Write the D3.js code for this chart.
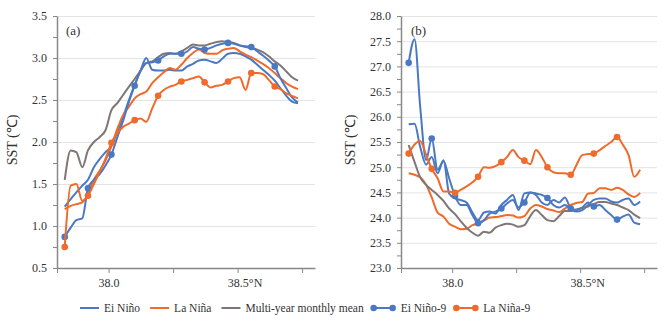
<!DOCTYPE html>
<html>
<head>
<meta charset="utf-8">
<script src="https://cdn.jsdelivr.net/npm/d3@7"></script>
<style>
  body { margin: 0; background: #fff; }
  text { font-family: "Liberation Serif", "Times New Roman", serif; fill: #333; }
</style>
</head>
<body>
<div id="chart"></div>
<script>
// latitude of each sample (°N)
const lat = [37.830, 37.853, 37.875, 37.898, 37.920, 37.943, 37.966, 37.988, 38.011, 38.033,
             38.056, 38.079, 38.101, 38.124, 38.146, 38.169, 38.192, 38.214, 38.237, 38.259,
             38.282, 38.305, 38.327, 38.350, 38.372, 38.395, 38.418, 38.440, 38.463, 38.485,
             38.508, 38.531, 38.553, 38.576, 38.598, 38.621, 38.644, 38.666, 38.689, 38.711, 38.734];

// panel (a)
const elNinoA = [1.23, 1.32, 1.40, 1.48, 1.55, 1.70, 1.80, 1.88, 1.95, 2.12,
                 2.30, 2.50, 2.68, 2.85, 3.00, 2.86, 2.85, 2.85, 2.86, 2.85,
                 2.85, 2.90, 2.93, 2.97, 2.98, 2.96, 2.94, 2.99, 3.05, 3.06,
                 3.05, 3.02, 2.98, 2.92, 2.86, 2.80, 2.73, 2.64, 2.55, 2.48, 2.46];
const laNinaA = [1.20, 1.24, 1.26, 1.28, 1.38, 1.55, 1.66, 1.78, 1.95, 2.15,
                 2.32, 2.42, 2.52, 2.57, 2.60, 2.70, 2.77, 2.83, 2.88, 2.86,
                 2.92, 3.00, 3.06, 3.10, 3.06, 3.05, 3.05, 3.09, 3.11, 3.12,
                 3.08, 3.04, 3.01, 2.97, 2.93, 2.88, 2.82, 2.76, 2.70, 2.66, 2.63];
const meanA   = [1.55, 1.90, 1.88, 1.70, 1.90, 2.00, 2.06, 2.14, 2.38, 2.46,
                 2.56, 2.66, 2.75, 2.85, 2.94, 2.96, 3.01, 3.05, 3.06, 3.05,
                 3.08, 3.12, 3.16, 3.15, 3.15, 3.17, 3.19, 3.20, 3.19, 3.18,
                 3.15, 3.13, 3.12, 3.10, 3.07, 3.02, 2.96, 2.91, 2.84, 2.77, 2.73];
const elNino9A = [0.87, 0.98, 1.07, 1.09, 1.45, 1.55, 1.62, 1.72, 1.85, 2.05,
                  2.25, 2.48, 2.67, 2.85, 2.94, 2.95, 2.97, 3.02, 3.05, 3.05,
                  3.05, 3.08, 3.13, 3.11, 3.10, 3.12, 3.15, 3.17, 3.18, 3.17,
                  3.15, 3.14, 3.13, 3.08, 3.03, 2.97, 2.90, 2.76, 2.64, 2.53, 2.47];
const laNina9A = [0.75, 1.48, 1.50, 1.30, 1.36, 1.50, 1.65, 1.80, 1.99, 2.10,
                  2.18, 2.22, 2.26, 2.28, 2.24, 2.40, 2.55, 2.62, 2.66, 2.68,
                  2.72, 2.74, 2.76, 2.78, 2.71, 2.65, 2.67, 2.68, 2.72, 2.76,
                  2.77, 2.62, 2.82, 2.82, 2.81, 2.74, 2.66, 2.63, 2.58, 2.55, 2.52];

// panel (b)
const elNinoB = [25.85, 25.86, 25.40, 25.05, 25.20, 24.88, 25.14, 24.48, 24.38, 24.35,
                 24.30, 24.10, 23.95, 24.10, 24.12, 24.08, 24.25, 24.35, 24.45, 24.15,
                 24.48, 24.50, 24.45, 24.30, 24.25, 24.35, 24.30, 24.40, 24.18, 24.12,
                 24.15, 24.25, 24.35, 24.38, 24.38, 24.32, 24.30, 24.35, 24.38, 24.25, 24.32];
const laNinaB = [24.88, 24.85, 24.80, 24.65, 24.40, 24.10, 24.02, 23.88, 23.82, 23.77,
                 23.78, 23.85, 23.89, 23.94, 24.00, 24.01, 24.03, 24.05, 24.04, 24.00,
                 24.03, 24.18, 24.25, 24.22, 24.17, 24.14, 24.11, 24.18, 24.25, 24.29,
                 24.31, 24.48, 24.49, 24.58, 24.58, 24.55, 24.59, 24.55, 24.46, 24.41, 24.49];
const meanB   = [25.44, 25.10, 24.80, 24.65, 24.55, 24.45, 24.33, 24.18, 24.07, 23.93,
                 23.80, 23.70, 23.64, 23.72, 23.70, 23.80, 23.85, 23.88, 23.86, 23.82,
                 23.85, 24.03, 24.15, 24.05, 23.95, 23.93, 24.03, 24.13, 24.13, 24.16,
                 24.19, 24.22, 24.27, 24.31, 24.31, 24.28, 24.25, 24.20, 24.15, 24.06, 23.99];
const elNino9B = [27.07, 27.54, 26.20, 25.14, 25.57, 24.95, 25.12, 24.78, 24.43, 24.25,
                  24.25, 24.05, 23.89, 23.95, 24.08, 24.12, 24.18, 24.28, 24.35, 24.20,
                  24.30, 24.50, 24.48, 24.45, 24.39, 24.25, 24.20, 24.25, 24.18, 24.15,
                  24.20, 24.30, 24.22, 24.25, 24.15, 24.05, 23.96, 24.02, 24.06, 23.90, 23.87];
const laNina9B = [25.27, 25.45, 25.52, 25.25, 24.97, 24.78, 24.52, 24.52, 24.49, 24.55,
                  24.62, 24.70, 24.81, 25.00, 24.99, 25.02, 25.10, 25.20, 25.34, 25.20,
                  25.13, 25.06, 25.34, 25.20, 25.00, 24.90, 24.88, 24.88, 24.85, 25.04,
                  25.24, 25.26, 25.27, 25.34, 25.42, 25.50, 25.60, 25.45, 25.24, 24.81, 24.95];

const seriesNames = ["Ei Niño", "La Niña", "Multi-year monthly mean", "Ei Niño-9", "La Niña-9"];
const xTicks = [37.8, 38.0, 38.25, 38.5, 38.75];

const colors = {
  "Ei Niño": "#4a78c2", "La Niña": "#ef6a2b", "Multi-year monthly mean": "#7f7675",
  "Ei Niño-9": "#4a78c2", "La Niña-9": "#ef6a2b"
};

const W = 672, H = 322;
const svg = d3.select("#chart").append("svg")
  .attr("width", W).attr("height", H)
  .style("background", "#fff");

function panel(opt) {
  const x = d3.scaleLinear().domain([37.8, 38.8]).range([opt.left, opt.right]);
  const y = d3.scaleLinear().domain(opt.yDomain).range([268, 16]);
  const g = svg.append("g");

  // gridlines
  const major = d3.range(opt.yDomain[0], opt.yDomain[1] + 0.001, 0.5);
  g.append("g")
    .attr("transform", `translate(${opt.left},0)`)
    .call(d3.axisLeft(y).tickValues(major.slice(1)).tickSize(-(opt.right - opt.left)).tickFormat(""))
    .call(s => s.select(".domain").remove())
    .selectAll("line").attr("stroke", "#e3e3e3").attr("stroke-width", 1);

  // y axis
  const minor = d3.range(opt.yDomain[0], opt.yDomain[1] + 0.001, 0.25);
  g.append("g")
    .attr("transform", `translate(${opt.left},0)`)
    .call(d3.axisLeft(y).tickValues(minor).tickSize(4).tickSizeOuter(0).tickPadding(6)
      .tickFormat(d => Math.abs(d * 2 - Math.round(d * 2)) < 1e-6 ? d3.format(".1f")(d) : ""))
    .call(s => s.select(".domain").attr("stroke", "#888").attr("stroke-width", 1.5))
    .call(s => s.selectAll("line").attr("stroke", "#888"))
    .call(s => s.selectAll("text").style("font-size", "12px").attr("fill", "#333"));

  // x axis
  g.append("g")
    .attr("transform", "translate(0,268)")
    .call(d3.axisBottom(x).tickValues(xTicks).tickSize(5).tickSizeOuter(0).tickPadding(5)
      .tickFormat(d => d === 38.0 ? "38.0" : d === 38.5 ? "38.5°N" : ""))
    .call(s => s.select(".domain").attr("stroke", "#888").attr("stroke-width", 1.5))
    .call(s => s.selectAll("line").attr("stroke", "#888"))
    .call(s => s.selectAll("text").style("font-size", "12px").attr("fill", "#333")
      .attr("dx", d => d === 38.5 ? 7 : 0));

  // axis title
  g.append("text")
    .attr("transform", `translate(${opt.titleX},140) rotate(-90)`)
    .attr("text-anchor", "middle")
    .style("font-size", "14px")
    .text("SST (℃)");

  g.append("text")
    .attr("x", opt.labelX).attr("y", 35)
    .style("font-size", "13px")
    .text(opt.label);

  const line = d3.line()
    .x((d, i) => x(lat[i]))
    .y(d => y(d))
    .curve(d3.curveMonotoneX);

  opt.series.forEach((vals, k) => {
    const name = seriesNames[k];
    g.append("path")
      .datum(vals)
      .attr("d", line)
      .attr("fill", "none")
      .attr("stroke", colors[name])
      .attr("stroke-width", 2)
      .attr("stroke-linejoin", "round");
    if (name.endsWith("-9")) {
      g.selectAll(null)
        .data(vals.map((v, i) => [i, v]).filter(d => d[0] % 4 === 0 && d[0] <= 36))
        .enter().append("circle")
        .attr("cx", d => x(lat[d[0]]))
        .attr("cy", d => y(d[1]))
        .attr("r", 3.3)
        .attr("fill", colors[name]);
    }
  });
}

panel({
  left: 57, right: 315, yDomain: [0.5, 3.5], titleX: 17, labelX: 66, label: "(a)",
  series: [elNinoA, laNinaA, meanA, elNino9A, laNina9A]
});
panel({
  left: 401, right: 657, yDomain: [23, 28], titleX: 355, labelX: 411, label: "(b)",
  series: [elNinoB, laNinaB, meanB, elNino9B, laNina9B]
});

// legend
const legend = svg.append("g").attr("transform", "translate(0,308)");
let cx = 80;
seriesNames.forEach(name => {
  const withMarker = name.endsWith("-9");
  const len = 19;
  const it = legend.append("g");
  it.append("line")
    .attr("x1", cx).attr("x2", cx + len).attr("y1", 0).attr("y2", 0)
    .attr("stroke", colors[name]).attr("stroke-width", 2);
  if (withMarker) {
    it.selectAll("circle").data([cx, cx + len]).enter().append("circle")
      .attr("cx", d => d).attr("cy", 0).attr("r", 3.3).attr("fill", colors[name]);
  }
  const t = it.append("text")
    .attr("x", cx + len + (withMarker ? 8 : 5)).attr("y", 0).attr("dy", "0.35em")
    .style("font-size", "11.5px")
    .text(name);
  cx = cx + len + (withMarker ? 8 : 5) + t.node().getComputedTextLength() + 10;
});
</script>
</body>
</html>
